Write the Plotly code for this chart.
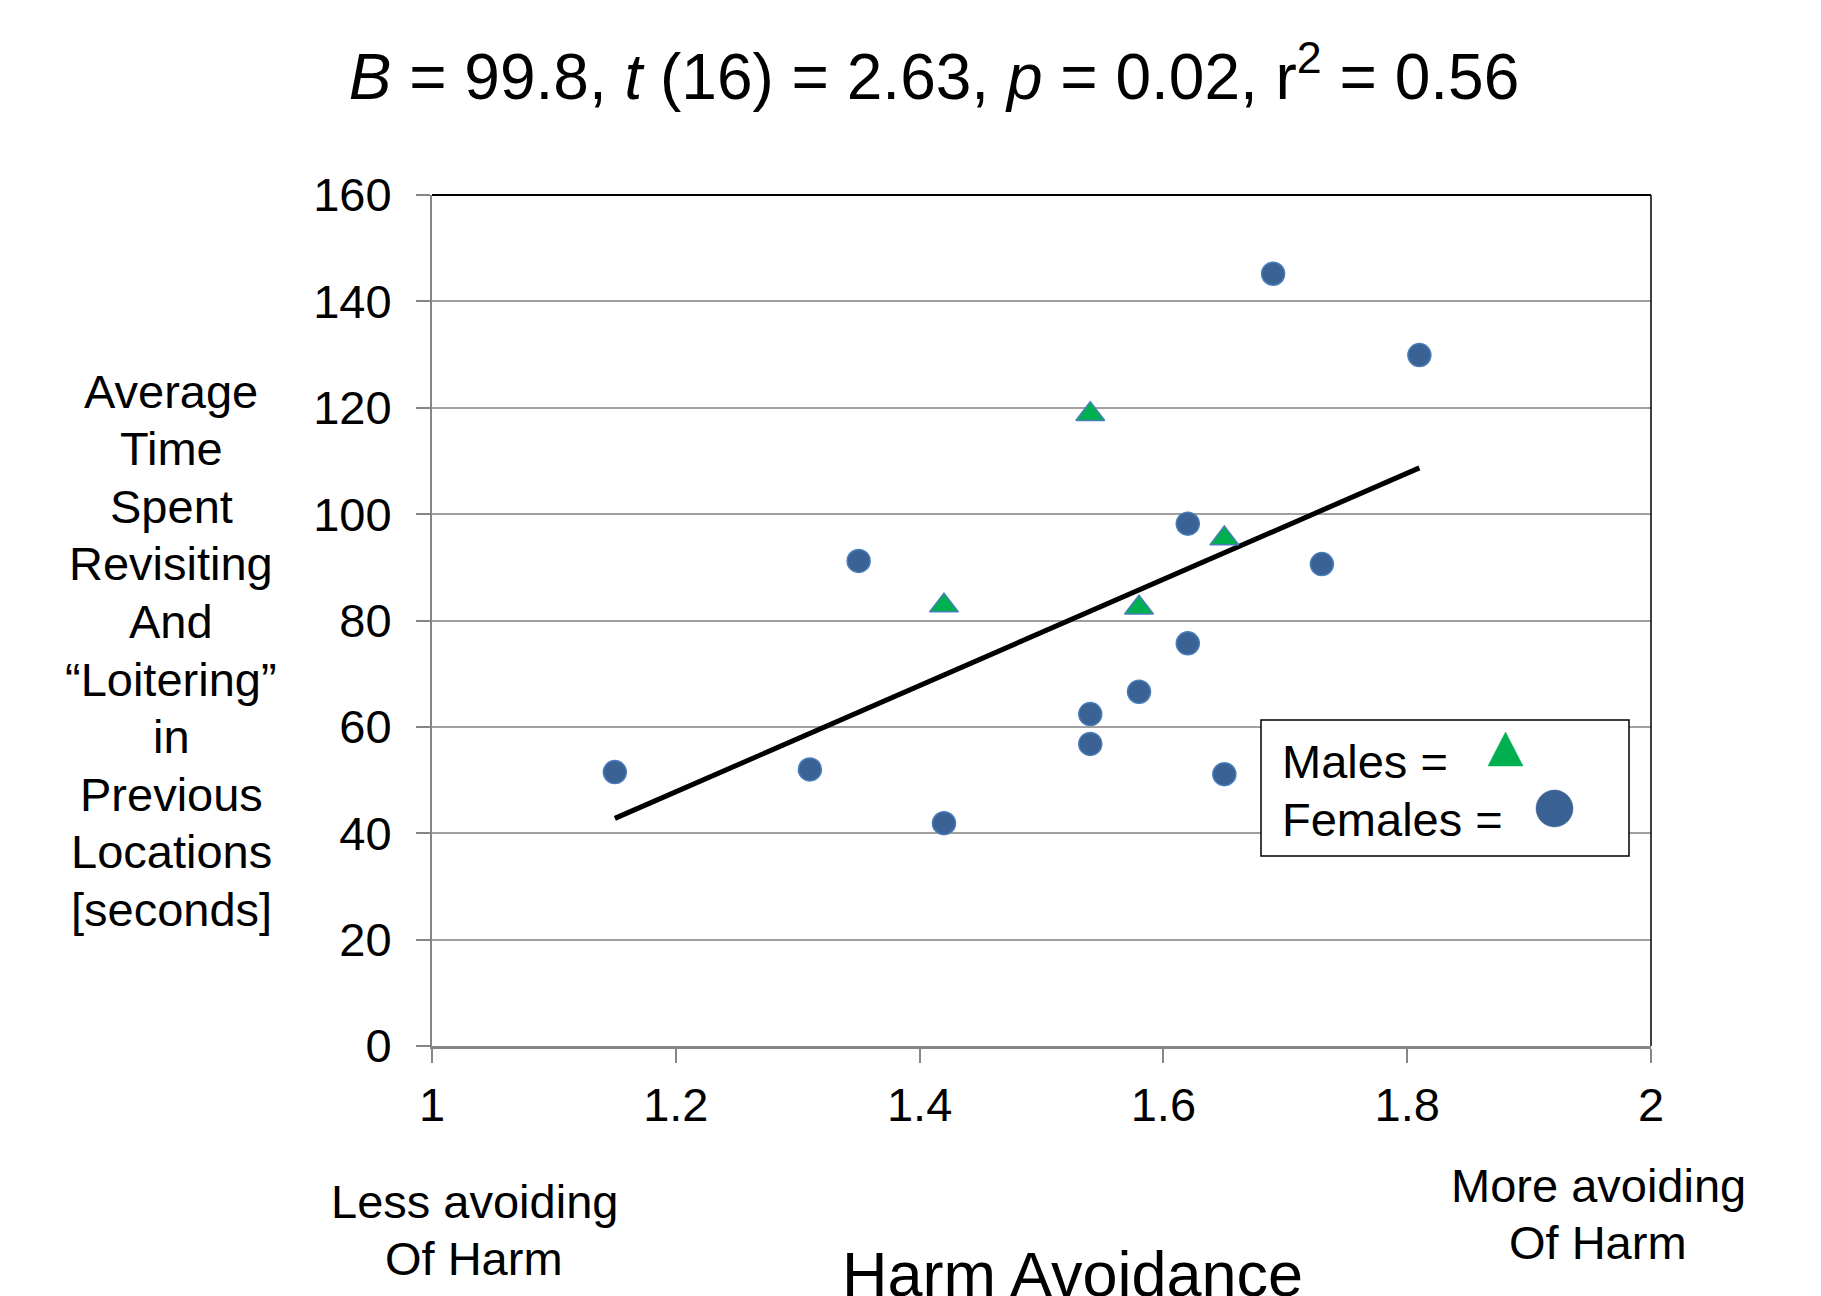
import plotly.graph_objects as go

# ---------------- data ----------------
female_x = [1.15, 1.31, 1.35, 1.42, 1.54, 1.54, 1.58, 1.62, 1.62, 1.65, 1.69, 1.73, 1.81]
female_y = [51.5, 52.0, 91.2, 41.9, 62.4, 56.8, 66.6, 98.2, 75.7, 51.1, 145.2, 90.6, 129.9]

male_x = [1.42, 1.54, 1.58, 1.65]
male_y = [82.8, 118.8, 82.4, 95.4]

trend_x = [1.15, 1.81]
trend_y = [42.8, 108.7]

x_ticks = [1, 1.2, 1.4, 1.6, 1.8, 2]
x_tick_labels = ["1", "1.2", "1.4", "1.6", "1.8", "2"]
y_ticks = [0, 20, 40, 60, 80, 100, 120, 140, 160]

title_text = ("<i>B</i> = 99.8, <i>t</i> (16) = 2.63, <i>p</i> = 0.02, "
              "r<sup>2</sup> = 0.56")
y_title_lines = ["Average", "Time", "Spent", "Revisiting", "And",
                 "\u201cLoitering\u201d", "in", "Previous", "Locations", "[seconds]"]
x_title = "Harm Avoidance"
low_label = ["Less avoiding", "Of Harm"]
high_label = ["More avoiding", "Of Harm"]
legend_labels = ["Males =", "Females ="]

# ---------------- styling / layout ----------------
FONT = "Liberation Sans, Arial, sans-serif"
W, H = 1821, 1296
L, R, T, B = 432, 1651, 195, 1046
PW, PH = R - L, B - T

BLUE_FILL = "#3A6294"
BLUE_LINE = "#4A7EBB"
GREEN = "#00B050"
GRID = "#A0A0A0"
AXIS = "#868686"


def pxx(x):
    return (x - L) / PW


def pxy(y):
    return (B - y) / PH


fig = go.Figure()

fig.add_trace(go.Scatter(
    x=trend_x, y=trend_y, mode="lines",
    line=dict(color="black", width=5), showlegend=False, hoverinfo="skip"))

fig.add_trace(go.Scatter(
    x=female_x, y=female_y, mode="markers", name="Females",
    marker=dict(symbol="circle", size=23, color=BLUE_FILL,
                line=dict(color=BLUE_LINE, width=1.5)),
    showlegend=False))

fig.add_trace(go.Scatter(
    x=male_x, y=male_y, mode="markers", name="Males",
    marker=dict(symbol="triangle-up", size=25, color=GREEN,
                line=dict(color=BLUE_LINE, width=1.5)),
    showlegend=False))

annotations = []

# y-axis title, one line per annotation
y0, dy = 391, 57.6
for i, line in enumerate(y_title_lines):
    annotations.append(dict(
        text=line, xref="paper", yref="paper", x=pxx(171), y=pxy(y0 + i * dy),
        xanchor="center", yanchor="middle", showarrow=False,
        font=dict(family=FONT, size=47, color="black")))

for i, line in enumerate(low_label):
    annotations.append(dict(
        text=line, xref="paper", yref="paper", x=pxx(474), y=pxy(1201 + i * 57),
        xanchor="center", yanchor="middle", showarrow=False,
        font=dict(family=FONT, size=47, color="black")))

for i, line in enumerate(high_label):
    annotations.append(dict(
        text=line, xref="paper", yref="paper", x=pxx(1598), y=pxy(1185 + i * 57),
        xanchor="center", yanchor="middle", showarrow=False,
        font=dict(family=FONT, size=47, color="black")))

annotations.append(dict(
    text=x_title, xref="paper", yref="paper", x=pxx(1072), y=pxy(1274),
    xanchor="center", yanchor="middle", showarrow=False,
    font=dict(family=FONT, size=63, color="black")))

# legend text
for i, lab in enumerate(legend_labels):
    annotations.append(dict(
        text=lab, xref="paper", yref="paper", x=pxx(1280), y=pxy(761 + i * 58),
        xanchor="left", yanchor="middle", showarrow=False,
        font=dict(family=FONT, size=47, color="black")))

shapes = [
    # plot border top / right (black)
    dict(type="line", xref="paper", yref="paper", x0=0, x1=1, y0=1, y1=1,
         line=dict(color="black", width=2), layer="above"),
    dict(type="line", xref="paper", yref="paper", x0=1, x1=1, y0=0, y1=1,
         line=dict(color="black", width=1.5), layer="above"),
    # legend box
    dict(type="rect", xref="paper", yref="paper",
         x0=pxx(1261), x1=pxx(1629), y0=pxy(856), y1=pxy(720),
         line=dict(color="black", width=1.5), fillcolor="white", layer="above"),
    # legend triangle
    dict(type="path", xref="paper", yref="paper",
         path="M {} {} L {} {} L {} {} Z".format(
             pxx(1488), pxy(766), pxx(1523), pxy(766), pxx(1505.5), pxy(732)),
         line=dict(color=GREEN, width=0.5), fillcolor=GREEN, layer="above"),
    # legend circle
    dict(type="circle", xref="paper", yref="paper",
         x0=pxx(1536), x1=pxx(1573), y0=pxy(827), y1=pxy(790),
         line=dict(color=BLUE_FILL, width=0.5), fillcolor=BLUE_FILL, layer="above"),
]

fig.update_layout(
    width=W, height=H,
    margin=dict(l=L, r=W - R, t=T, b=H - B, pad=0),
    paper_bgcolor="white", plot_bgcolor="white",
    font=dict(family=FONT, color="black", size=47),
    title=dict(text=title_text, x=934 / W, xanchor="center",
               y=1 - 77 / H, yanchor="middle",
               font=dict(family=FONT, size=64, color="black")),
    annotations=annotations,
    shapes=shapes,
    showlegend=False,
)

fig.update_xaxes(
    range=[1, 2], tickvals=x_ticks, ticktext=x_tick_labels,
    showgrid=False, zeroline=False,
    showline=True, linecolor=AXIS, linewidth=3,
    ticks="outside", ticklen=14, tickwidth=1.5, tickcolor=AXIS,
    tickfont=dict(family=FONT, size=47, color="black"),
    ticklabelstandoff=2,
)

fig.update_yaxes(
    range=[0, 160], tickvals=y_ticks,
    showgrid=True, gridcolor=GRID, gridwidth=2, zeroline=False,
    showline=True, linecolor=AXIS, linewidth=2,
    ticks="outside", ticklen=14, tickwidth=2, tickcolor=AXIS,
    tickfont=dict(family=FONT, size=47, color="black"),
    ticklabelstandoff=15,
)

fig.write_html("out.html")
